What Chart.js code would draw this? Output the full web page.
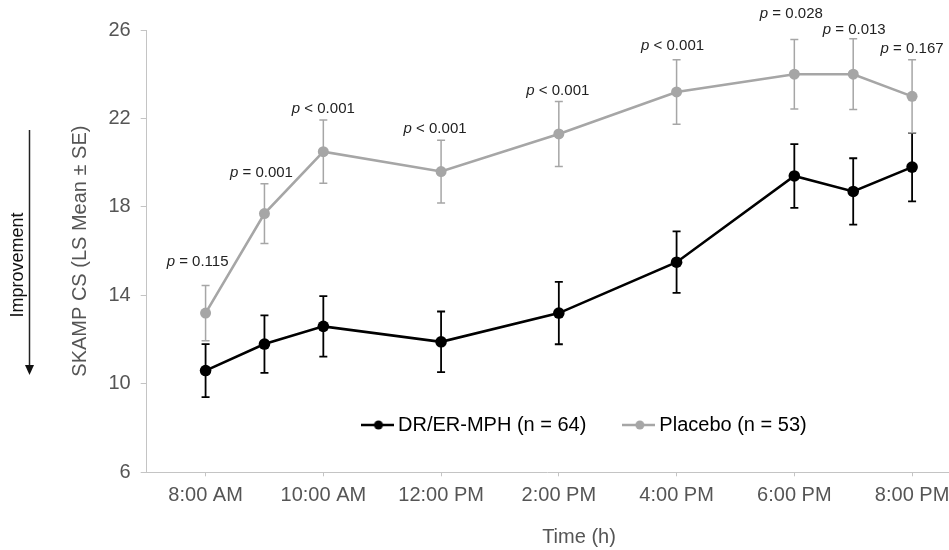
<!DOCTYPE html>
<html>
<head>
<meta charset="utf-8">
<script src="https://cdn.jsdelivr.net/npm/chart.js@4/dist/chart.umd.min.js"></script>
<style>
  html, body { margin: 0; padding: 0; background: #ffffff; overflow: hidden; }
  #wrap { width: 949px; height: 550px; position: relative; }
</style>
</head>
<body>
<div id="wrap"><canvas id="c" width="949" height="550"></canvas></div>
<script>
// ---- data ----
const hours = [8, 9, 10, 12, 14, 16, 18, 19, 20];
const drerMean = [10.6, 11.8, 12.6, 11.9, 13.2, 15.5, 19.4, 18.7, 19.8];
const drerSE = [1.2, 1.3, 1.37, 1.37, 1.41, 1.39, 1.44, 1.5, 1.55];
const placeboMean = [13.2, 17.7, 20.5, 19.6, 21.3, 23.2, 24.0, 24.0, 23.0];
const placeboSE = [1.25, 1.35, 1.43, 1.42, 1.47, 1.46, 1.57, 1.6, 1.65];
const pText = ['= 0.115', '= 0.001', '< 0.001', '< 0.001', '< 0.001', '< 0.001', '= 0.028', '= 0.013', '= 0.167'];
const xTickValues = [8, 10, 12, 14, 16, 18, 20];
const xTickLabels = ['8:00 AM', '10:00 AM', '12:00 PM', '2:00 PM', '4:00 PM', '6:00 PM', '8:00 PM'];
const seriesNames = ['DR/ER-MPH (n = 64)', 'Placebo (n = 53)'];
const yTitle = 'SKAMP CS (LS Mean \u00B1 SE)';
const xTitle = 'Time (h)';
const sideNote = 'Improvement';

// ---- styling / layout (not data) ----
const FONT = "'Liberation Sans', Arial, Helvetica, sans-serif";
const BLACK = '#000000';
const GRAY = '#a6a6a6';
const TEXT = '#555555';
const AXIS = '#c4c4c4';
const pLabelLift = [24, 11, 11, 11.6, 10.5, 14, 26, 8.7, 10.6];
const pLabelDx = [-8, -3, 0, -6, -1, -4, -3, 1, 0];

function legendIcon(color, lw, r) {
  const c = document.createElement('canvas');
  c.width = 33; c.height = 14;
  const g = c.getContext('2d');
  g.strokeStyle = color; g.lineWidth = lw;
  g.beginPath(); g.moveTo(0, 7); g.lineTo(33, 7); g.stroke();
  g.fillStyle = color;
  g.beginPath(); g.arc(18, 7, r, 0, Math.PI * 2); g.fill();
  return c;
}
const icons = [legendIcon(BLACK, 2.5, 4.5), legendIcon(GRAY, 2.5, 4.5)];

const errorSets = [drerSE, placeboSE];

const errorBarPlugin = {
  id: 'errorBars',
  beforeDatasetsDraw(chart) {
    const ctx = chart.ctx;
    const xs = chart.scales.x, ys = chart.scales.y;
    chart.data.datasets.forEach((ds, di) => {
      const se = errorSets[di];
      ctx.save();
      ctx.strokeStyle = ds.borderColor;
      ctx.lineWidth = di === 0 ? 1.8 : 1.5;
      ds.data.forEach((pt, i) => {
        const x = xs.getPixelForValue(pt.x);
        const yt = ys.getPixelForValue(pt.y + se[i]);
        const yb = ys.getPixelForValue(pt.y - se[i]);
        ctx.beginPath();
        ctx.moveTo(x, yt); ctx.lineTo(x, yb);
        ctx.moveTo(x - 4, yt); ctx.lineTo(x + 4, yt);
        ctx.moveTo(x - 4, yb); ctx.lineTo(x + 4, yb);
        ctx.stroke();
      });
      ctx.restore();
    });
  }
};

const legendPlacePlugin = {
  id: 'legendPlace',
  beforeLayout(chart) {
    const lg = chart.legend;
    if (lg && !lg._patchedFit) {
      const f = lg.fit;
      lg.fit = function () { f.call(this); this.height = 0; };
      lg._patchedFit = true;
    }
  },
  beforeDraw(chart) {
    const lg = chart.legend;
    if (!lg) return;
    lg.left = 325; lg.right = 949;
    lg.top = 374; lg.bottom = 460;
    lg.width = lg.right - lg.left; lg.height = lg.bottom - lg.top;
  }
};

const annotationPlugin = {
  id: 'annot',
  afterDraw(chart) {
    const ctx = chart.ctx;
    const xs = chart.scales.x, ys = chart.scales.y;
    ctx.save();
    // p-value labels
    ctx.fillStyle = '#222222';
    ctx.textBaseline = 'middle';
    ctx.textAlign = 'left';
    hours.forEach((h, i) => {
      const cx = xs.getPixelForValue(h) + pLabelDx[i];
      const cy = ys.getPixelForValue(placeboMean[i] + placeboSE[i]) - pLabelLift[i];
      ctx.font = 'italic 15px ' + FONT;
      const wp = ctx.measureText('p').width;
      ctx.font = '15px ' + FONT;
      const rest = ' ' + pText[i];
      const wr = ctx.measureText(rest).width;
      const x0 = cx - (wp + wr) / 2;
      ctx.font = 'italic 15px ' + FONT;
      ctx.fillText('p', x0, cy);
      ctx.font = '15px ' + FONT;
      ctx.fillText(rest, x0 + wp, cy);
    });
    // x-axis title
    ctx.fillStyle = TEXT;
    ctx.font = '20px ' + FONT;
    ctx.textAlign = 'center';
    ctx.fillText(xTitle, 579, 537);
    // Improvement arrow
    ctx.strokeStyle = '#222222';
    ctx.lineWidth = 1.5;
    ctx.beginPath(); ctx.moveTo(29.5, 130); ctx.lineTo(29.5, 366); ctx.stroke();
    ctx.fillStyle = '#111111';
    ctx.beginPath(); ctx.moveTo(25, 365); ctx.lineTo(34, 365); ctx.lineTo(29.5, 375); ctx.closePath(); ctx.fill();
    ctx.translate(18, 265);
    ctx.rotate(-Math.PI / 2);
    ctx.fillStyle = '#111111';
    ctx.font = '18px ' + FONT;
    ctx.textAlign = 'center';
    ctx.textBaseline = 'middle';
    ctx.fillText(sideNote, 0, 0);
    ctx.restore();
  }
};

new Chart(document.getElementById('c'), {
  type: 'line',
  data: {
    datasets: [
      {
        label: seriesNames[0],
        data: hours.map((h, i) => ({ x: h, y: drerMean[i] })),
        borderColor: BLACK, backgroundColor: BLACK,
        borderWidth: 2.6, pointRadius: 5.8, pointHoverRadius: 5.8,
        pointBackgroundColor: BLACK, pointBorderWidth: 0, tension: 0, fill: false
      },
      {
        label: seriesNames[1],
        data: hours.map((h, i) => ({ x: h, y: placeboMean[i] })),
        borderColor: GRAY, backgroundColor: GRAY,
        borderWidth: 2.6, pointRadius: 5.5, pointHoverRadius: 5.5,
        pointBackgroundColor: GRAY, pointBorderWidth: 0, tension: 0, fill: false
      }
    ]
  },
  options: {
    responsive: false,
    animation: false,
    devicePixelRatio: 1,
    layout: { autoPadding: false, padding: { left: 0, right: 1, top: 30, bottom: 0 } },
    plugins: {
      tooltip: { enabled: false },
      legend: {
        display: true,
        position: 'top',
        align: 'start',
        labels: {
          usePointStyle: true,
          pointStyleWidth: 22,
          boxHeight: 14,
          padding: 41,
          color: TEXT,
          font: { size: 20, family: FONT },
          generateLabels(chart) {
            return chart.data.datasets.map((ds, i) => ({
              text: ds.label, pointStyle: icons[i], fillStyle: ds.borderColor,
              strokeStyle: ds.borderColor, lineWidth: 0, hidden: false, datasetIndex: i
            }));
          }
        }
      }
    },
    scales: {
      x: {
        type: 'linear',
        min: 7, max: 20.61,
        afterBuildTicks(scale) { scale.ticks = xTickValues.map(v => ({ value: v })); },
        afterFit(scale) { scale.height = 77.7; scale.paddingLeft = 0; scale.paddingRight = 0; },
        ticks: {
          color: TEXT, font: { size: 20, family: FONT }, padding: 7, maxRotation: 0, autoSkip: false,
          callback(v) { const k = xTickValues.indexOf(v); return k >= 0 ? xTickLabels[k] : ''; }
        },
        grid: { drawOnChartArea: false, drawTicks: true, tickLength: 4, color: AXIS },
        border: { display: true, color: AXIS, width: 1 }
      },
      y: {
        min: 6, max: 26,
        afterFit(scale) { scale.width = 146.7; scale.paddingTop = 0; scale.paddingBottom = 0; },
        ticks: { stepSize: 4, color: TEXT, font: { size: 20, family: FONT }, padding: 10 },
        grid: { drawOnChartArea: false, drawTicks: true, tickLength: 6, color: AXIS },
        border: { display: true, color: AXIS, width: 1 },
        title: {
          display: true, text: yTitle, color: TEXT,
          font: { size: 20, family: FONT }, padding: { top: 68, bottom: 0 }
        }
      }
    }
  },
  plugins: [legendPlacePlugin, errorBarPlugin, annotationPlugin]
});
</script>
</body>
</html>
